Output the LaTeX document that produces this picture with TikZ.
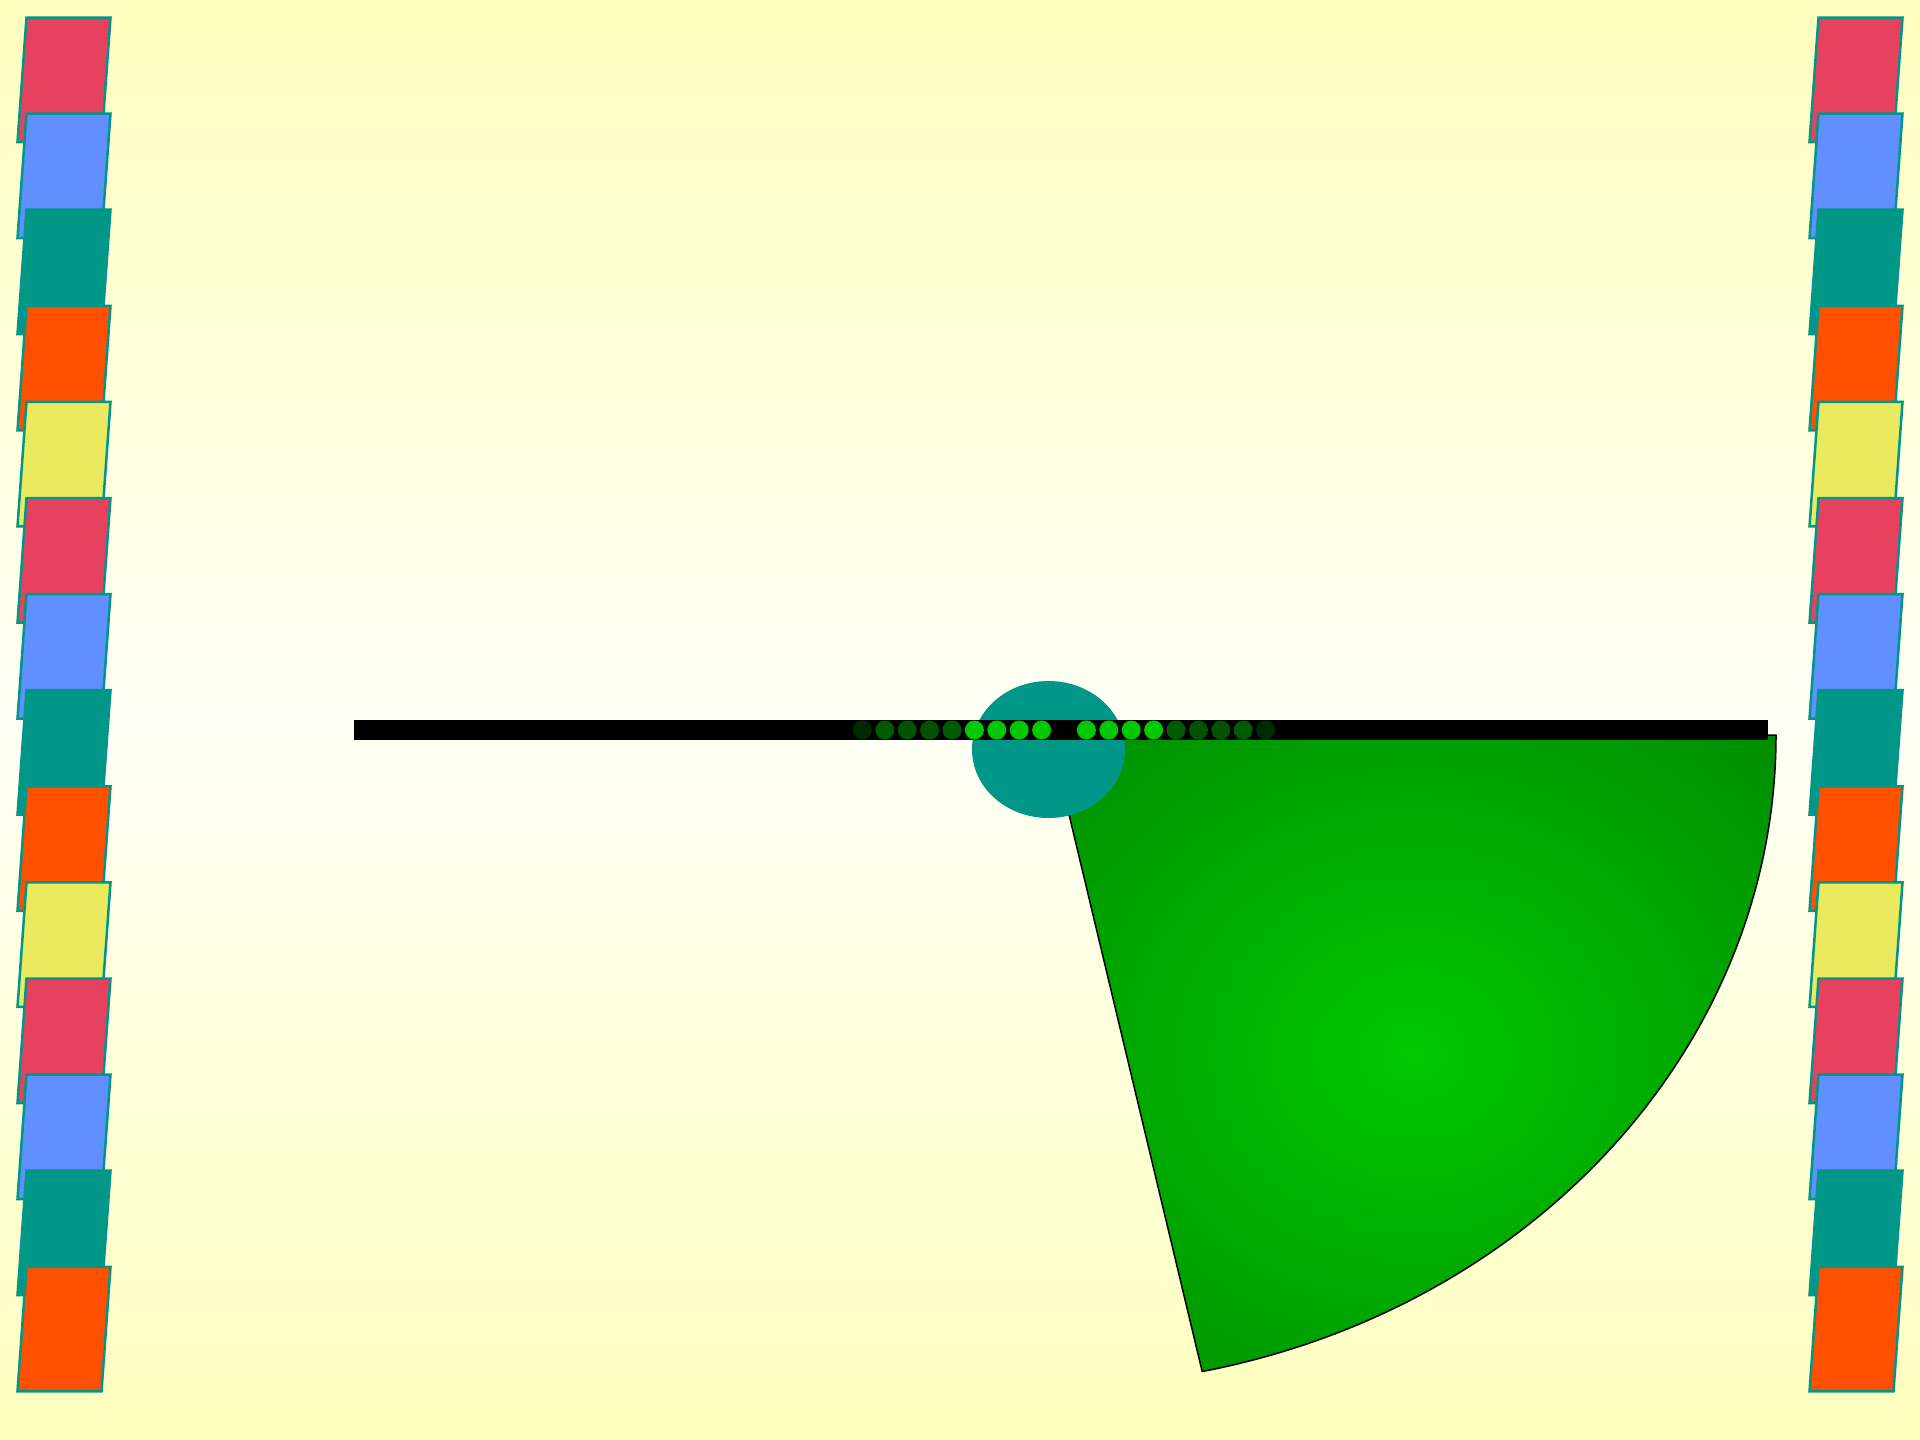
\documentclass[tikz,border=0pt]{standalone}
\definecolor{bgtop}{RGB}{255,255,190}
\definecolor{bgmid}{RGB}{255,255,246}
\definecolor{tealc}{RGB}{0,150,136}
\definecolor{redc}{RGB}{230,66,96}
\definecolor{bluec}{RGB}{96,144,255}
\definecolor{orangec}{RGB}{255,80,0}
\definecolor{yellowc}{RGB}{234,234,94}
\definecolor{wedgein}{RGB}{0,200,0}
\definecolor{wedgeout}{RGB}{0,140,0}
\definecolor{dotc}{RGB}{0,200,0}
\pgfdeclareradialshading{wedgeshade}{\pgfpoint{0bp}{0bp}}{color(0bp)=(wedgein); color(36bp)=(wedgeout); color(50bp)=(wedgeout)}
\begin{document}
\begin{tikzpicture}[x=1pt,y=-1pt,
  para/.style={draw=tealc,line width=2.5pt},
  dotstyle/.style={fill=dotc}]
\useasboundingbox (0,0) rectangle (1920,1440);
\shade[top color=bgtop, bottom color=bgtop, middle color=bgmid] (0,0) rectangle (1920,1440);
% side columns
\foreach \c [count=\i from 0] in {redc,bluec,tealc,orangec,yellowc,redc,bluec,tealc,orangec,yellowc,redc,bluec,tealc,orangec} {
  \pgfmathsetmacro\yy{17.5+96.1*\i}
  \foreach \dx in {0,1792} {
    \draw[para, fill=\c] (26.5+\dx,\yy) -- (110.5+\dx,\yy) -- (101.5+\dx,\yy+124.5) -- (17.5+\dx,\yy+124.5) -- cycle;
  }
}
% wedge
\coordinate (apex) at (1050,735);
\coordinate (wright) at (1776,735);
\shadedraw[shading=wedgeshade, draw=black, line width=1.5pt, line join=round]
  (apex) -- (wright) arc[start angle=0, end angle=77.9, x radius=726, y radius=651] -- cycle;
% ellipse
\fill[tealc] (1048.5,749.5) ellipse [x radius=76.5, y radius=68.5];
% bar
\fill[black] (354,720) rectangle (1768,740);
% dots
\foreach \k/\o in {1/1,2/1,3/1,4/1,5/0.45,6/0.42,7/0.42,8/0.45,9/0.22} {
  \fill[dotstyle, opacity=\o] (1064+22.4*\k,730) circle[radius=9.5];
  \fill[dotstyle, opacity=\o] (1064-22.4*\k,730) circle[radius=9.5];
}
\end{tikzpicture}
\end{document}
